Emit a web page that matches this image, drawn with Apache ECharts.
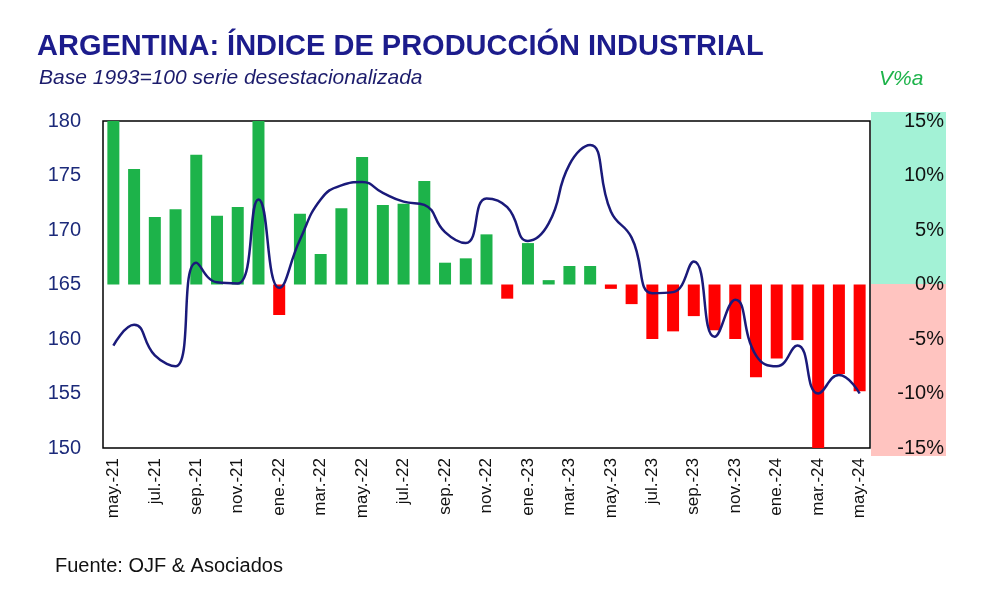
<!DOCTYPE html>
<html>
<head>
<meta charset="utf-8">
<script src="https://cdn.jsdelivr.net/npm/echarts@6/dist/echarts.min.js"></script>
<style>html,body{margin:0;background:#fff}#c{width:992px;height:606px}</style>
</head>
<body>
<div id="c"></div>
<script>
var months = ['may.-21','jun.-21','jul.-21','ago.-21','sep.-21','oct.-21','nov.-21','dic.-21',
  'ene.-22','feb.-22','mar.-22','abr.-22','may.-22','jun.-22','jul.-22','ago.-22','sep.-22','oct.-22','nov.-22','dic.-22',
  'ene.-23','feb.-23','mar.-23','abr.-23','may.-23','jun.-23','jul.-23','ago.-23','sep.-23','oct.-23','nov.-23','dic.-23',
  'ene.-24','feb.-24','mar.-24','abr.-24','may.-24'];
var varAnual = [15, 10.6, 6.2, 6.9, 11.9, 6.3, 7.1, 15,
  -2.8, 6.5, 2.8, 7.0, 11.7, 7.3, 7.4, 9.5, 2.0, 2.4, 4.6, -1.3,
  3.8, 0.4, 1.7, 1.7, -0.4, -1.8, -5.0, -4.3, -2.9, -4.2, -5.0, -8.5,
  -6.8, -5.1, -15, -8.2, -9.8];
var indice = [159.4, 161.3, 158.5, 157.5, 167.0, 165.2, 165.1, 172.8,
  164.7, 169.1, 172.8, 174.1, 174.4, 173.4, 172.6, 172.3, 169.8, 168.8, 172.9, 172.1,
  169.0, 170.6, 176.0, 177.8, 171.7, 169.3, 164.2, 164.3, 167.1, 160.2, 163.6, 158.5,
  157.5, 159.4, 155.0, 156.7, 155.0];

var chart = echarts.init(document.getElementById('c'));
var font = '"Liberation Sans", Arial, sans-serif';
chart.setOption({
  animation: false,
  textStyle: {fontFamily: font},
  title: [
    {text: 'ARGENTINA: ÍNDICE DE PRODUCCIÓN INDUSTRIAL', left: 32, top: 27,
     textStyle: {fontSize: 29, fontWeight: 'bold', color: '#1c1c8c', fontFamily: font}},
    {text: 'Base 1993=100 serie desestacionalizada', left: 34, top: 63,
     textStyle: {fontSize: 21, fontStyle: 'italic', fontWeight: 'normal', color: '#1c1c6c', fontFamily: font}},
    {text: 'V%a', left: 874, top: 64,
     textStyle: {fontSize: 21, fontStyle: 'italic', fontWeight: 'normal', color: '#1db34a', fontFamily: font}},
    {text: 'Fuente: OJF & Asociados', left: 50, top: 551,
     textStyle: {fontSize: 20, fontWeight: 'normal', color: '#111', fontFamily: font}}
  ],
  graphic: [
    {type: 'rect', z: -1, shape: {x: 871, y: 112, width: 75, height: 172}, style: {fill: '#a3f2d6'}},
    {type: 'rect', z: -1, shape: {x: 871, y: 284, width: 75, height: 172}, style: {fill: '#ffc4c0'}}
  ],
  grid: {left: 103, right: 122, top: 121, bottom: 158, show: true, borderColor: '#000', borderWidth: 1.5},
  xAxis: {
    type: 'category', data: months,
    axisLine: {show: false}, axisTick: {show: false},
    axisLabel: {rotate: 90, interval: 1, fontSize: 17, color: '#111', margin: 10}
  },
  yAxis: [
    {type: 'value', min: 150, max: 180, interval: 5, splitLine: {show: false},
     axisLabel: {fontSize: 20, color: '#1c2a7a', margin: 22}},
    {type: 'value', min: -15, max: 15, interval: 5, splitLine: {show: false},
     axisLabel: {fontSize: 20, color: '#111', margin: 74, align: 'right',
       formatter: function (v) { return v + '%'; }}}
  ],
  series: [
    {type: 'bar', yAxisIndex: 1, barWidth: 12,
     data: varAnual.map(function (v) {
       return {value: v, itemStyle: {color: v >= 0 ? '#1db34a' : '#ff0000'}};
     })},
    {type: 'line', yAxisIndex: 0, data: indice, smooth: 0.5, symbol: 'none',
     lineStyle: {color: '#1a1a7a', width: 2.5}}
  ]
});
</script>
</body>
</html>
